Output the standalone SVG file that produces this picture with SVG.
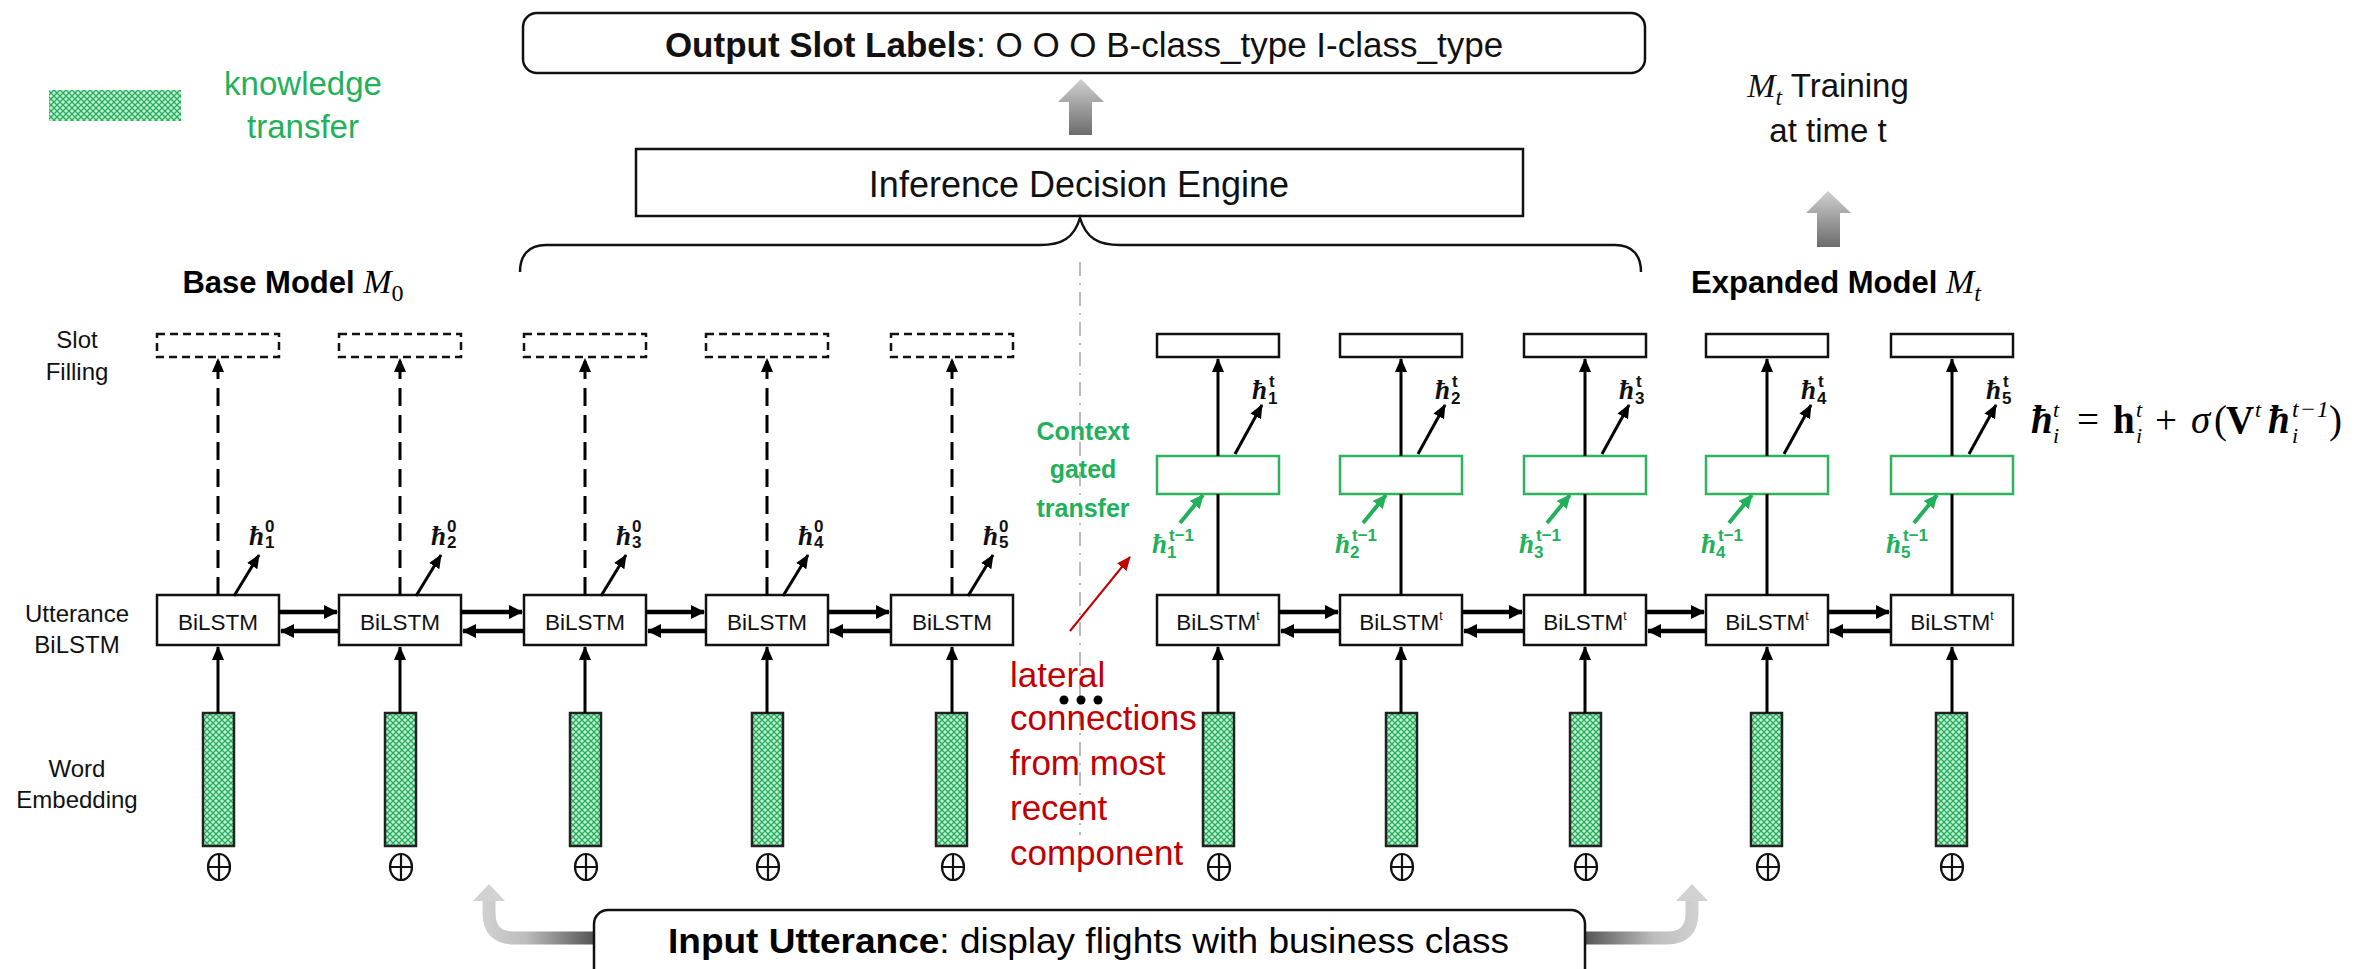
<svg xmlns="http://www.w3.org/2000/svg" width="2362" height="969" viewBox="0 0 2362 969">
<style>
.s{font-family:"Liberation Sans",Arial,sans-serif;}
.m{font-family:"Liberation Serif","DejaVu Serif",serif;}
.box{fill:#fff;stroke:#111;stroke-width:2.5;}
.dbox{fill:#fff;stroke:#111;stroke-width:2.5;stroke-dasharray:8 5;}
.gbox{fill:#fff;stroke:#2db35d;stroke-width:2.5;}
.emb{fill:url(#kt);stroke:#222;stroke-width:2.5;}
.ln{stroke:#000;stroke-width:3;fill:none;}
.dl{stroke:#000;stroke-width:3;fill:none;stroke-dasharray:18 9;}
.hl{stroke:#000;stroke-width:4.5;fill:none;}
.gl{stroke:#22b15a;stroke-width:4;fill:none;}
.lbl{font-size:24px;fill:#111;text-anchor:middle;}
.bl{font-size:22.5px;fill:#111;text-anchor:middle;}
.hb{font-size:27px;font-style:italic;font-weight:bold;}
.sc{font-size:17px;font-weight:bold;}
.gt{fill:#22b15a;}
.plus{fill:none;stroke:#111;stroke-width:2.2;}
</style>
<defs>
<pattern id="kt" patternUnits="userSpaceOnUse" width="6" height="6">
<rect width="6" height="6" fill="#c8eed6"/>
<path d="M-1,-1 L7,7 M7,-1 L-1,7" stroke="#22b05a" stroke-width="1.3"/>
</pattern>
<linearGradient id="gv" x1="0" y1="0" x2="0" y2="1">
<stop offset="0" stop-color="#d0d0d0"/><stop offset="1" stop-color="#6c6c6c"/>
</linearGradient>
<linearGradient id="gl1" gradientUnits="userSpaceOnUse" x1="594" y1="0" x2="480" y2="0">
<stop offset="0" stop-color="#555"/><stop offset="0.6" stop-color="#bdbdbd"/><stop offset="1" stop-color="#d2d2d2"/>
</linearGradient>
<linearGradient id="gr1" gradientUnits="userSpaceOnUse" x1="1585" y1="0" x2="1700" y2="0">
<stop offset="0" stop-color="#555"/><stop offset="0.6" stop-color="#bdbdbd"/><stop offset="1" stop-color="#d2d2d2"/>
</linearGradient>
<marker id="ah" markerUnits="userSpaceOnUse" markerWidth="14" markerHeight="12" viewBox="0 0 14 12" refX="13" refY="6" orient="auto"><path d="M0,0 L14,6 L0,12 z" fill="#000"/></marker>
<marker id="ahb" markerUnits="userSpaceOnUse" markerWidth="14" markerHeight="14" viewBox="0 0 14 14" refX="13" refY="7" orient="auto"><path d="M0,0 L14,7 L0,14 z" fill="#000"/></marker>
<marker id="ahg" markerUnits="userSpaceOnUse" markerWidth="14" markerHeight="13" viewBox="0 0 14 13" refX="13" refY="6.5" orient="auto"><path d="M0,0 L14,6.5 L0,13 z" fill="#22b15a"/></marker>
<marker id="ahr" markerUnits="userSpaceOnUse" markerWidth="14" markerHeight="12" viewBox="0 0 14 12" refX="13" refY="6" orient="auto"><path d="M0,0 L14,6 L0,12 z" fill="#c00000"/></marker>
</defs>
<rect width="2362" height="969" fill="#fff"/>

<g id="legend">
<rect x="49" y="90" width="132" height="31" fill="url(#kt)"/>
<text class="s gt" x="303" y="95" font-size="33" text-anchor="middle">knowledge</text>
<text class="s gt" x="303" y="138" font-size="33" text-anchor="middle">transfer</text>
</g>

<g id="output">
<rect x="523" y="13" width="1122" height="60" rx="14" class="box"/>
<text class="s" x="1084" y="57" font-size="35" text-anchor="middle" fill="#111"><tspan font-weight="bold">Output Slot Labels</tspan>: O O O B-class_type I-class_type</text>
</g>

<g id="inference">
<rect x="636" y="149" width="887" height="67" class="box"/>
<text class="s" x="1079" y="197" font-size="36" text-anchor="middle" fill="#111">Inference Decision Engine</text>
</g>

<g id="training">
<text x="1828" y="97" text-anchor="middle" fill="#111"><tspan class="m" font-size="34" font-style="italic">M</tspan><tspan class="m" font-size="24" font-style="italic" dy="8">t</tspan><tspan class="s" font-size="33" dy="-8"> Training</tspan></text>
<text class="s" x="1828" y="142" font-size="33" text-anchor="middle" fill="#111">at time t</text>
</g>

<g id="base-title">
<text x="293" y="293" text-anchor="middle" fill="#000"><tspan class="s" font-size="31" font-weight="bold">Base Model </tspan><tspan class="m" font-size="34" font-style="italic">M</tspan><tspan class="m" font-size="24" dy="8">0</tspan></text>
</g>
<g id="expanded-title">
<text x="1836" y="293" text-anchor="middle" fill="#000"><tspan class="s" font-size="31" font-weight="bold">Expanded Model </tspan><tspan class="m" font-size="34" font-style="italic">M</tspan><tspan class="m" font-size="24" font-style="italic" dy="8">t</tspan></text>
</g>

<g id="row-labels">
<text class="s lbl" x="77" y="348">Slot</text>
<text class="s lbl" x="77" y="380">Filling</text>
<text class="s lbl" x="77" y="622">Utterance</text>
<text class="s lbl" x="77" y="653">BiLSTM</text>
<text class="s lbl" x="77" y="777">Word</text>
<text class="s lbl" x="77" y="808">Embedding</text>
</g>

<g id="block-arrows">
<polygon points="1081,79 1104,102 1092,102 1092,135 1069,135 1069,102 1058,102" fill="url(#gv)"/>
<polygon points="1828,191 1851,213 1840,213 1840,247 1817,247 1817,213 1806,213" fill="url(#gv)"/>
<path d="M596,938 L514,938 Q489,938 489,913 L489,899" fill="none" stroke="url(#gl1)" stroke-width="13"/>
<polygon points="489,884 505,901 473,901" fill="#d2d2d2"/>
<path d="M1583,938 L1667,938 Q1692,938 1692,913 L1692,899" fill="none" stroke="url(#gr1)" stroke-width="13"/>
<polygon points="1692,884 1708,901 1676,901" fill="#d2d2d2"/>
</g>

<g id="input">
<rect x="594" y="910" width="991" height="90" rx="14" class="box"/>
<text class="s" x="668" y="953" font-size="35" textLength="841" lengthAdjust="spacingAndGlyphs" fill="#000"><tspan font-weight="bold">Input Utterance</tspan>: display flights with business class</text>
</g>

<g id="brace">
<path d="M520,272 C520,256 528,245 546,245 L1040,245 C1062,245 1074,238 1080,218 C1086,238 1098,245 1120,245 L1615,245 C1633,245 1641,256 1641,272" fill="none" stroke="#111" stroke-width="2.5"/>
</g>
<line x1="1080" y1="262" x2="1080" y2="835" stroke="#bbb" stroke-width="2" stroke-dasharray="14 7 2 7"/>

<g id="base-model">
<g id="b1"><rect class="dbox" x="157" y="334" width="122" height="23"/><rect class="box" x="157" y="595" width="122" height="50"/><text class="s bl" x="218" y="630">BiLSTM</text><rect class="emb" x="203" y="713" width="31" height="133"/><ellipse class="plus" cx="219" cy="867" rx="11" ry="13"/><path class="plus" d="M208,867 H230 M219,854 V880"/></g>
<g id="b2"><rect class="dbox" x="339" y="334" width="122" height="23"/><rect class="box" x="339" y="595" width="122" height="50"/><text class="s bl" x="400" y="630">BiLSTM</text><rect class="emb" x="385" y="713" width="31" height="133"/><ellipse class="plus" cx="401" cy="867" rx="11" ry="13"/><path class="plus" d="M390,867 H412 M401,854 V880"/></g>
<g id="b3"><rect class="dbox" x="524" y="334" width="122" height="23"/><rect class="box" x="524" y="595" width="122" height="50"/><text class="s bl" x="585" y="630">BiLSTM</text><rect class="emb" x="570" y="713" width="31" height="133"/><ellipse class="plus" cx="586" cy="867" rx="11" ry="13"/><path class="plus" d="M575,867 H597 M586,854 V880"/></g>
<g id="b4"><rect class="dbox" x="706" y="334" width="122" height="23"/><rect class="box" x="706" y="595" width="122" height="50"/><text class="s bl" x="767" y="630">BiLSTM</text><rect class="emb" x="752" y="713" width="31" height="133"/><ellipse class="plus" cx="768" cy="867" rx="11" ry="13"/><path class="plus" d="M757,867 H779 M768,854 V880"/></g>
<g id="b5"><rect class="dbox" x="891" y="334" width="122" height="23"/><rect class="box" x="891" y="595" width="122" height="50"/><text class="s bl" x="952" y="630">BiLSTM</text><rect class="emb" x="936" y="713" width="31" height="133"/><ellipse class="plus" cx="953" cy="867" rx="11" ry="13"/><path class="plus" d="M942,867 H964 M953,854 V880"/></g>
</g>

<g id="expanded-model">
<g id="e1"><rect class="box" x="1157" y="334" width="122" height="23" stroke-width="3"/><rect class="gbox" x="1157" y="456" width="122" height="38"/><rect class="box" x="1157" y="595" width="122" height="50"/><text class="s bl" x="1218" y="630">BiLSTM<tspan font-size="12" dy="-10">t</tspan></text><rect class="emb" x="1203" y="713" width="31" height="133"/><ellipse class="plus" cx="1219" cy="867" rx="11" ry="13"/><path class="plus" d="M1208,867 H1230 M1219,854 V880"/></g>
<g id="e2"><rect class="box" x="1340" y="334" width="122" height="23" stroke-width="3"/><rect class="gbox" x="1340" y="456" width="122" height="38"/><rect class="box" x="1340" y="595" width="122" height="50"/><text class="s bl" x="1401" y="630">BiLSTM<tspan font-size="12" dy="-10">t</tspan></text><rect class="emb" x="1386" y="713" width="31" height="133"/><ellipse class="plus" cx="1402" cy="867" rx="11" ry="13"/><path class="plus" d="M1391,867 H1413 M1402,854 V880"/></g>
<g id="e3"><rect class="box" x="1524" y="334" width="122" height="23" stroke-width="3"/><rect class="gbox" x="1524" y="456" width="122" height="38"/><rect class="box" x="1524" y="595" width="122" height="50"/><text class="s bl" x="1585" y="630">BiLSTM<tspan font-size="12" dy="-10">t</tspan></text><rect class="emb" x="1570" y="713" width="31" height="133"/><ellipse class="plus" cx="1586" cy="867" rx="11" ry="13"/><path class="plus" d="M1575,867 H1597 M1586,854 V880"/></g>
<g id="e4"><rect class="box" x="1706" y="334" width="122" height="23" stroke-width="3"/><rect class="gbox" x="1706" y="456" width="122" height="38"/><rect class="box" x="1706" y="595" width="122" height="50"/><text class="s bl" x="1767" y="630">BiLSTM<tspan font-size="12" dy="-10">t</tspan></text><rect class="emb" x="1751" y="713" width="31" height="133"/><ellipse class="plus" cx="1768" cy="867" rx="11" ry="13"/><path class="plus" d="M1757,867 H1779 M1768,854 V880"/></g>
<g id="e5"><rect class="box" x="1891" y="334" width="122" height="23" stroke-width="3"/><rect class="gbox" x="1891" y="456" width="122" height="38"/><rect class="box" x="1891" y="595" width="122" height="50"/><text class="s bl" x="1952" y="630">BiLSTM<tspan font-size="12" dy="-10">t</tspan></text><rect class="emb" x="1936" y="713" width="31" height="133"/><ellipse class="plus" cx="1952" cy="867" rx="11" ry="13"/><path class="plus" d="M1941,867 H1963 M1952,854 V880"/></g>
</g>

<g id="connectors">
<path class="dl" d="M218,595 V359" marker-end="url(#ah)"/>
<path class="dl" d="M400,595 V359" marker-end="url(#ah)"/>
<path class="dl" d="M585,595 V359" marker-end="url(#ah)"/>
<path class="dl" d="M767,595 V359" marker-end="url(#ah)"/>
<path class="dl" d="M952,595 V359" marker-end="url(#ah)"/>
<path class="ln" d="M218,713 V647" marker-end="url(#ah)"/>
<path class="ln" d="M400,713 V647" marker-end="url(#ah)"/>
<path class="ln" d="M585,713 V647" marker-end="url(#ah)"/>
<path class="ln" d="M767,713 V647" marker-end="url(#ah)"/>
<path class="ln" d="M952,713 V647" marker-end="url(#ah)"/>
<path class="ln" d="M1218,713 V647" marker-end="url(#ah)"/>
<path class="ln" d="M1401,713 V647" marker-end="url(#ah)"/>
<path class="ln" d="M1585,713 V647" marker-end="url(#ah)"/>
<path class="ln" d="M1767,713 V647" marker-end="url(#ah)"/>
<path class="ln" d="M1952,713 V647" marker-end="url(#ah)"/>
<path class="ln" d="M234,596 L259,555" marker-end="url(#ah)"/>
<path class="ln" d="M416,596 L441,555" marker-end="url(#ah)"/>
<path class="ln" d="M601,596 L626,555" marker-end="url(#ah)"/>
<path class="ln" d="M783,596 L808,555" marker-end="url(#ah)"/>
<path class="ln" d="M968,596 L993,555" marker-end="url(#ah)"/>
<path class="hl" d="M279,612 H337" marker-end="url(#ahb)"/><path class="hl" d="M339,631 H281" marker-end="url(#ahb)"/>
<path class="hl" d="M461,612 H522" marker-end="url(#ahb)"/><path class="hl" d="M524,631 H463" marker-end="url(#ahb)"/>
<path class="hl" d="M646,612 H704" marker-end="url(#ahb)"/><path class="hl" d="M706,631 H648" marker-end="url(#ahb)"/>
<path class="hl" d="M828,612 H889" marker-end="url(#ahb)"/><path class="hl" d="M891,631 H830" marker-end="url(#ahb)"/>
<path class="hl" d="M1279,612 H1338" marker-end="url(#ahb)"/><path class="hl" d="M1340,631 H1281" marker-end="url(#ahb)"/>
<path class="hl" d="M1462,612 H1522" marker-end="url(#ahb)"/><path class="hl" d="M1524,631 H1464" marker-end="url(#ahb)"/>
<path class="hl" d="M1646,612 H1704" marker-end="url(#ahb)"/><path class="hl" d="M1706,631 H1648" marker-end="url(#ahb)"/>
<path class="hl" d="M1828,612 H1889" marker-end="url(#ahb)"/><path class="hl" d="M1891,631 H1830" marker-end="url(#ahb)"/>
<path class="ln" d="M1218,595 V494 M1401,595 V494 M1585,595 V494 M1767,595 V494 M1952,595 V494"/>
<path class="ln" d="M1218,456 V359" marker-end="url(#ah)"/>
<path class="ln" d="M1401,456 V359" marker-end="url(#ah)"/>
<path class="ln" d="M1585,456 V359" marker-end="url(#ah)"/>
<path class="ln" d="M1767,456 V359" marker-end="url(#ah)"/>
<path class="ln" d="M1952,456 V359" marker-end="url(#ah)"/>
<path class="ln" d="M1235,454 L1262,405" marker-end="url(#ah)"/>
<path class="ln" d="M1418,454 L1445,405" marker-end="url(#ah)"/>
<path class="ln" d="M1602,454 L1629,405" marker-end="url(#ah)"/>
<path class="ln" d="M1784,454 L1811,405" marker-end="url(#ah)"/>
<path class="ln" d="M1969,454 L1996,405" marker-end="url(#ah)"/>
<path class="gl" d="M1180,523 L1203,495" marker-end="url(#ahg)"/>
<path class="gl" d="M1363,523 L1386,495" marker-end="url(#ahg)"/>
<path class="gl" d="M1547,523 L1570,495" marker-end="url(#ahg)"/>
<path class="gl" d="M1729,523 L1752,495" marker-end="url(#ahg)"/>
<path class="gl" d="M1914,523 L1937,495" marker-end="url(#ahg)"/>
<path d="M1070,631 L1130,557" stroke="#c00000" stroke-width="2" fill="none" marker-end="url(#ahr)"/>
</g>

<g id="h0-labels" fill="#111">
<text class="m hb" x="249" y="545">ħ</text><text class="s sc" x="265" y="532">0</text><text class="s sc" x="265" y="548">1</text>
<text class="m hb" x="431" y="545">ħ</text><text class="s sc" x="447" y="532">0</text><text class="s sc" x="447" y="548">2</text>
<text class="m hb" x="616" y="545">ħ</text><text class="s sc" x="632" y="532">0</text><text class="s sc" x="632" y="548">3</text>
<text class="m hb" x="798" y="545">ħ</text><text class="s sc" x="814" y="532">0</text><text class="s sc" x="814" y="548">4</text>
<text class="m hb" x="983" y="545">ħ</text><text class="s sc" x="999" y="532">0</text><text class="s sc" x="999" y="548">5</text>
</g>
<g id="ht-labels" fill="#111">
<text class="m hb" x="1252" y="399">ħ</text><text class="s sc" x="1269" y="387">t</text><text class="s sc" x="1268" y="404">1</text>
<text class="m hb" x="1435" y="399">ħ</text><text class="s sc" x="1452" y="387">t</text><text class="s sc" x="1451" y="404">2</text>
<text class="m hb" x="1619" y="399">ħ</text><text class="s sc" x="1636" y="387">t</text><text class="s sc" x="1635" y="404">3</text>
<text class="m hb" x="1801" y="399">ħ</text><text class="s sc" x="1818" y="387">t</text><text class="s sc" x="1817" y="404">4</text>
<text class="m hb" x="1986" y="399">ħ</text><text class="s sc" x="2003" y="387">t</text><text class="s sc" x="2002" y="404">5</text>
</g>
<g id="htm1-labels" class="gt">
<text class="m hb" x="1152" y="553">ħ</text><text class="s sc" x="1169" y="541">t−1</text><text class="s sc" x="1167" y="558">1</text>
<text class="m hb" x="1335" y="553">ħ</text><text class="s sc" x="1352" y="541">t−1</text><text class="s sc" x="1350" y="558">2</text>
<text class="m hb" x="1519" y="553">ħ</text><text class="s sc" x="1536" y="541">t−1</text><text class="s sc" x="1534" y="558">3</text>
<text class="m hb" x="1701" y="553">ħ</text><text class="s sc" x="1718" y="541">t−1</text><text class="s sc" x="1716" y="558">4</text>
<text class="m hb" x="1886" y="553">ħ</text><text class="s sc" x="1903" y="541">t−1</text><text class="s sc" x="1901" y="558">5</text>
</g>

<g id="context-label" class="s gt" font-weight="bold" font-size="25" text-anchor="middle">
<text x="1083" y="440">Context</text>
<text x="1083" y="478">gated</text>
<text x="1083" y="517">transfer</text>
</g>

<g id="lateral-label" class="s" fill="#c00000" font-size="35">
<text x="1010" y="687">lateral</text>
<text x="1010" y="730">connections</text>
<text x="1010" y="775">from most</text>
<text x="1010" y="820">recent</text>
<text x="1010" y="865">component</text>
</g>
<g id="ellipsis" fill="#000">
<circle cx="1064" cy="700" r="4.5"/><circle cx="1081" cy="700" r="4.5"/><circle cx="1098" cy="700" r="4.5"/>
</g>

<g id="formula" class="m" fill="#000" font-size="39">
<text x="2031" y="433" font-weight="bold" font-style="italic">ħ</text>
<text x="2053" y="417" font-size="22" font-style="italic">t</text>
<text x="2053" y="443" font-size="22" font-style="italic">i</text>
<text x="2077" y="433">=</text>
<text x="2113" y="433" font-weight="bold">h</text>
<text x="2136" y="417" font-size="22" font-style="italic">t</text>
<text x="2136" y="443" font-size="22" font-style="italic">i</text>
<text x="2155" y="433">+</text>
<text x="2191" y="433" font-style="italic">σ</text>
<text x="2214" y="433">(</text>
<text x="2226" y="433" font-weight="bold">V</text>
<text x="2255" y="417" font-size="22" font-style="italic">t</text>
<text x="2268" y="433" font-weight="bold" font-style="italic">ħ</text>
<text x="2292" y="417" font-size="24" font-style="italic" letter-spacing="1">t−1</text>
<text x="2292" y="443" font-size="22" font-style="italic">i</text>
<text x="2329" y="433">)</text>
</g>
</svg>
